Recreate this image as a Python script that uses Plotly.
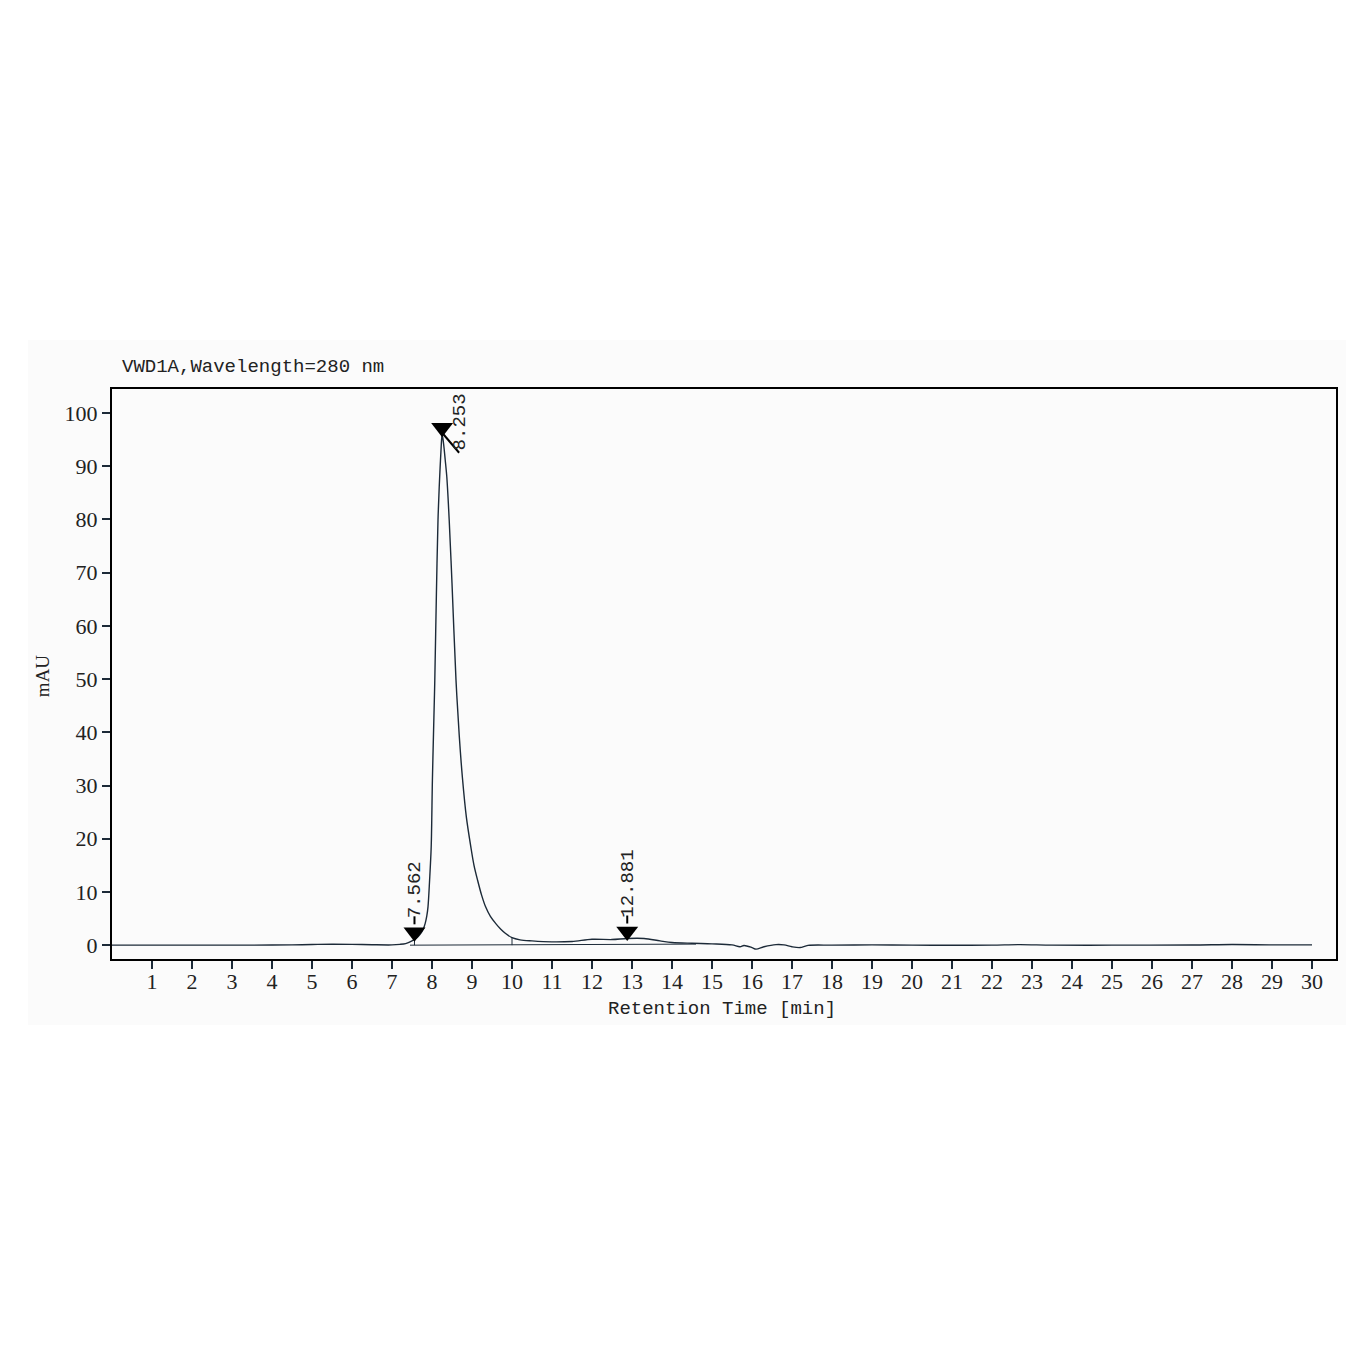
import plotly.graph_objects as go

# ---------------- data ----------------
time_min = [0, 1, 2, 3, 4, 4.5, 5, 5.5, 6, 6.5, 7.0, 7.2, 7.34, 7.45, 7.562, 7.65, 7.72,
            7.78, 7.83, 7.87, 7.90, 7.94, 7.98, 8.01, 8.04, 8.07, 8.11, 8.15, 8.18, 8.20,
            8.225, 8.24, 8.253, 8.27, 8.30, 8.33, 8.37, 8.43, 8.50, 8.60, 8.68, 8.76,
            8.86, 8.97, 9.05, 9.14, 9.24, 9.34, 9.46, 9.59, 9.72, 9.84, 10.0, 10.2, 10.5,
            11.0, 11.5, 12.0, 12.5, 12.881, 13.3, 13.7, 14.0, 14.5, 15.0, 15.5, 15.7, 15.8,
            16.0, 16.1, 16.3, 16.6, 16.8, 17.0, 17.2, 17.4, 18.0, 19, 20, 21, 22, 22.7,
            23.5, 25, 27, 28, 29, 30]
signal_mau = [0.0, 0.0, 0.0, 0.0, 0.02, 0.05, 0.12, 0.18, 0.15, 0.08, 0.05, 0.15, 0.3,
              0.6, 1.1, 1.6, 2.2, 3.0, 4.1, 5.5, 7.2, 12.2, 18.5, 31.0, 40.5, 49.8, 66.0,
              79.9, 86.0, 89.3, 93.0, 95.0, 95.9, 95.3, 93.5, 91.2, 88.0, 79.9, 68.0,
              49.8, 39.5, 31.5, 24.0, 18.5, 15.0, 12.2, 9.4, 7.2, 5.4, 4.1, 3.0, 2.2,
              1.4, 1.0, 0.8, 0.62, 0.7, 1.1, 1.05, 1.25, 1.25, 0.8, 0.5, 0.35, 0.25,
              0.05, -0.3, -0.05, -0.45, -0.75, -0.3, 0.1, 0.05, -0.3, -0.45, -0.05, 0.0,
              0.05, 0.0, -0.02, 0.0, 0.1, 0.0, 0.0, 0.02, 0.12, 0.05, 0.05]

peak_times = [7.562, 8.253, 12.881]
peak_heights = [1.1, 95.9, 1.25]
peak_labels = ["7.562", "8.253", "12.881"]

baseline_t = [7.45, 14.6]
baseline_v = [0.0, 0.2]
integ_marks_t = [7.562, 10.0]
integ_marks_v = [1.1, 1.4]

x_ticks = list(range(1, 31))
y_ticks = list(range(0, 101, 10))

title_text = "VWD1A,Wavelength=280 nm"
x_title = "Retention Time [min]"
y_title = "mAU"

# ---------------- layout constants ----------------
LINE = "#1c2a38"
PX_PER_Y = 570 / (104.5 + 2.6)     # pixels per mAU
PX_PER_X = 1224 / 30.6             # pixels per minute

fig = go.Figure()

# chromatogram
fig.add_trace(go.Scatter(x=time_min, y=signal_mau, mode="lines",
                         line=dict(color=LINE, width=1.4, shape="spline", smoothing=0.9),
                         hoverinfo="skip", showlegend=False))

# integration baseline
fig.add_trace(go.Scatter(x=baseline_t, y=baseline_v, mode="lines",
                         line=dict(color=LINE, width=1), showlegend=False, hoverinfo="skip"))
for t, v in zip(integ_marks_t, integ_marks_v):
    fig.add_trace(go.Scatter(x=[t, t], y=[0.0, v], mode="lines",
                             line=dict(color=LINE, width=1), showlegend=False, hoverinfo="skip"))

# peak markers (triangle tip on the curve)
tri_px = 19
fig.add_trace(go.Scatter(
    x=peak_times,
    y=[h + 7 / PX_PER_Y for h in peak_heights],
    mode="markers",
    marker=dict(symbol="triangle-down", size=tri_px, color="black"),
    showlegend=False, hoverinfo="skip"))

# labels
for t, h, lab in zip(peak_times, peak_heights, peak_labels):
    if lab == "8.253":
        dx, dy = 17 / PX_PER_X, -20 / PX_PER_Y
        y0 = h + 2 / PX_PER_Y
        fig.add_trace(go.Scatter(x=[t, t + dx], y=[y0, y0 + dy], mode="lines",
                                 line=dict(color="black", width=2),
                                 showlegend=False, hoverinfo="skip"))
        fig.add_annotation(x=t + dx, y=y0 + dy, text=lab, textangle=-90, showarrow=False,
                           xanchor="center", yanchor="bottom", xshift=1, yshift=0,
                           font=dict(family="Liberation Mono", size=19, color="#222"))
    else:
        ytop = h + 15 / PX_PER_Y
        fig.add_trace(go.Scatter(x=[t, t], y=[ytop, ytop + 8 / PX_PER_Y], mode="lines",
                                 line=dict(color="black", width=2),
                                 showlegend=False, hoverinfo="skip"))
        fig.add_annotation(x=t, y=ytop, text=lab, textangle=-90, showarrow=False,
                           xanchor="center", yanchor="bottom", yshift=4,
                           font=dict(family="Liberation Mono", size=19, color="#222"))

# background panel
fig.add_shape(type="rect", xref="paper", yref="paper",
              x0=-0.0686, x1=1.0082, y0=-0.1158, y1=1.086,
              fillcolor="#fbfbfb", line=dict(width=0), layer="below")

fig.add_annotation(xref="paper", yref="paper", x=0.0065, y=1.0386, text=title_text,
                   showarrow=False, xanchor="left", yanchor="middle",
                   font=dict(family="Liberation Mono", size=19, color="#222"))
fig.add_annotation(xref="paper", yref="paper", x=0.498, y=-0.0877, text=x_title,
                   showarrow=False, xanchor="center", yanchor="middle",
                   font=dict(family="Liberation Mono", size=19, color="#222"))
fig.add_annotation(xref="paper", yref="paper", x=-0.0572, y=0.498, text=y_title,
                   showarrow=False, xanchor="center", yanchor="middle", textangle=-90,
                   font=dict(family="Liberation Serif", size=19, color="#222"))

fig.update_xaxes(range=[0, 30.6], tickmode="array", tickvals=x_ticks,
                 ticktext=[str(v) for v in x_ticks],
                 ticks="outside", ticklen=8, tickwidth=2, tickcolor=LINE,
                 ticklabelstandoff=-6,
                 showline=True, linecolor="black", linewidth=2, mirror=True,
                 showgrid=False, zeroline=False,
                 tickfont=dict(family="Liberation Serif", size=22, color="#222"))
fig.update_yaxes(range=[-2.6, 104.5], tickmode="array", tickvals=y_ticks,
                 ticktext=[str(v) for v in y_ticks],
                 ticks="outside", ticklen=8, tickwidth=2, tickcolor=LINE,
                 showline=True, linecolor="black", linewidth=2, mirror=True,
                 showgrid=False, zeroline=False,
                 tickfont=dict(family="Liberation Serif", size=22, color="#222"))

fig.update_layout(width=1370, height=1370,
                  margin=dict(l=104, r=42, t=381, b=419),
                  paper_bgcolor="white", plot_bgcolor="rgba(0,0,0,0)",
                  showlegend=False)

fig.write_html("out.html")
